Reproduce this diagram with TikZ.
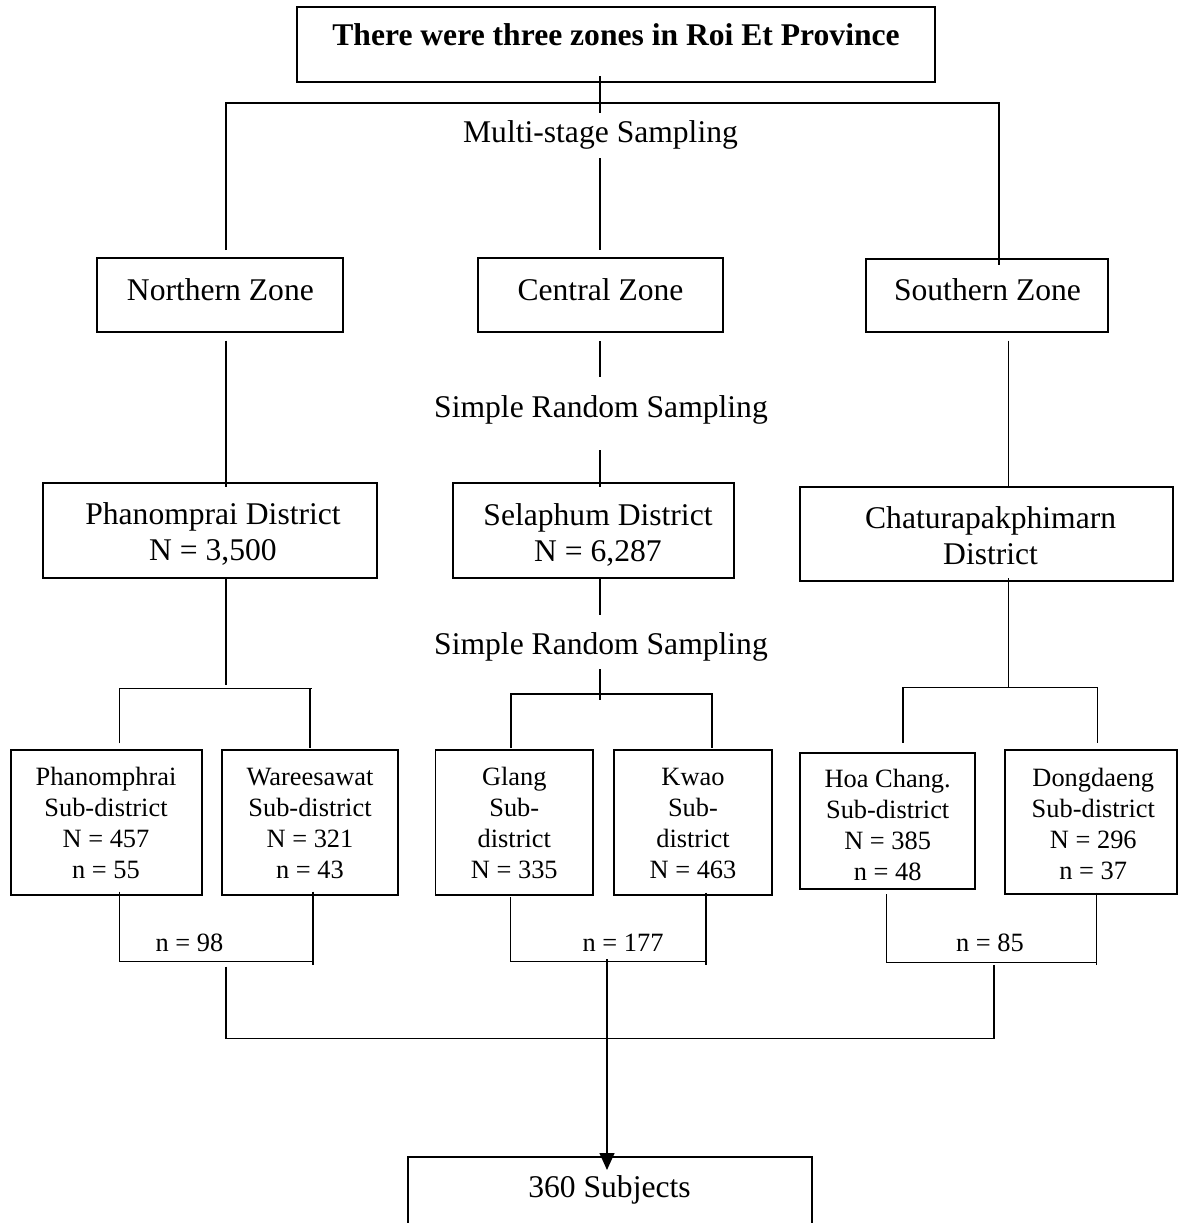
\documentclass[tikz,border=0pt]{standalone}
\usepackage{fontspec}
\setmainfont{Liberation Serif}
\usetikzlibrary{arrows.meta}
\newcommand\mkbox[5]{\node[boxst,minimum width={#4-#2},minimum height={#5-#3}] (#1) at ({(#2+#4)/2},{(#3+#5)/2}) {};}
\begin{document}
\begin{tikzpicture}[x=1pt,y=-1pt,line width=1.5pt,
  boxst/.style={draw,line width=1.6pt,rectangle,inner sep=0pt},
  big/.style={font=\fontsize{31.6}{36}\selectfont,align=center,inner sep=0pt},
  small/.style={font=\fontsize{26.4}{31}\selectfont,align=center,inner sep=0pt},
  link/.style={line width=1.5pt},
  tip/.style={-{Triangle[length=17pt,width=15pt]}}]
\useasboundingbox (0,0) rectangle (1179,1223);
\clip (0,0) rectangle (1179,1223);
% boxes
\mkbox{title}{297}{7}{935}{82}
\mkbox{nz}{97}{258}{343}{332}
\mkbox{cz}{478}{258}{723}{332}
\mkbox{sz}{866}{259}{1108}{332}
\mkbox{pd}{43}{483}{377}{578}
\mkbox{sd}{453}{483}{734}{578}
\mkbox{cd}{800}{487}{1173}{581}
\mkbox{b1}{11}{750}{202}{895}
\mkbox{b2}{222}{750}{398}{895}
\mkbox{b3}{435.5}{750}{593}{895}
\mkbox{b4}{614}{750}{772}{895}
\mkbox{b5}{800}{753}{975}{889}
\mkbox{b6}{1005}{750}{1177}{894}
\mkbox{subj}{408}{1157}{812}{1270}
% texts
\node[big] (title-t) at (616,35) {\bfseries There were three zones in Roi Et Province};
\node[big] (mss) at (600.5,135) {Multi-stage Sampling};
\node[big] (nz-t) at (220.4,290) {Northern Zone};
\node[big] (cz-t) at (600.5,290) {Central Zone};
\node[big] (sz-t) at (987.5,290) {Southern Zone};
\node[big] (srs1) at (601,410) {Simple Random Sampling};
\node[big] (srs2) at (601,647) {Simple Random Sampling};
\node[big] (pd-t) at (213,534) {Phanomprai District\\N = 3,500};
\node[big] (sd-t) at (598,535) {Selaphum District\\N = 6,287};
\node[big] (cd-t) at (990.6,536) {Chaturapakphimarn\\District};
\node[small] (b1-t) at (106,823) {Phanomphrai\\Sub-district\\N = 457\\n = 55};
\node[small] (b2-t) at (310,823) {Wareesawat\\Sub-district\\N = 321\\n = 43};
\node[small] (b3-t) at (514.3,823) {Glang\\Sub-\\district\\N = 335};
\node[small] (b4-t) at (693,823) {Kwao\\Sub-\\district\\N = 463};
\node[small] (b5-t) at (887.7,825) {Hoa Chang.\\Sub-district\\N = 385\\n = 48};
\node[small] (b6-t) at (1093.3,823.5) {Dongdaeng\\Sub-district\\N = 296\\n = 37};
\node[small] (n98) at (189.4,943) {n = 98};
\node[small] (n177) at (623,943) {n = 177};
\node[small] (n85) at (990,943) {n = 85};
\node[big] (subj-t) at (609.5,1190) {360 Subjects};
% junction coordinates
\coordinate (a1) at (600,76);     \coordinate (a2) at (600,112.7);
\coordinate (a3) at (600,158);    \coordinate (a4) at (600,250);
\coordinate (l0) at (225.8,250);  \coordinate (l1) at (225.8,103);
\coordinate (r1) at (999,103);    \coordinate (r0) at (999,265);
\coordinate (n1) at (225.8,340.7); \coordinate (n2) at (225.8,486.7);
\coordinate (c1) at (600,341);    \coordinate (c2) at (600,376.7);
\coordinate (c3) at (600,450);    \coordinate (c4) at (600,487);
\coordinate (s1) at (1008.6,340.7); \coordinate (s2) at (1008.6,486.7);
\coordinate (p1) at (225.8,578);  \coordinate (p2) at (225.8,685);
\coordinate (pl) at (119.4,743.3); \coordinate (pr) at (311.9,688.3);
\coordinate (pr1) at (310,688.3); \coordinate (pr2) at (310,748.3);
\coordinate (d1) at (600,578);    \coordinate (d2) at (600,615);
\coordinate (d3) at (600,669);    \coordinate (d4) at (600,700);
\coordinate (dl) at (511,748);    \coordinate (dr) at (712,694);
\coordinate (dr2) at (712,748);
\coordinate (e1) at (1008.6,578); \coordinate (e2) at (1008.6,686.7);
\coordinate (el) at (902.8,742.7); \coordinate (er) at (1097.6,687.7);
\coordinate (er2) at (1097.6,742.7);
\coordinate (f1) at (119.4,891.7); \coordinate (f2) at (313,961.7);
\coordinate (f3) at (313,891.7);  \coordinate (f4) at (313,965);
\coordinate (g1) at (510.5,897);  \coordinate (g2) at (706,961.7);
\coordinate (g3) at (706,892.7);  \coordinate (g4) at (706,965);
\coordinate (h1) at (886.7,894);  \coordinate (h2) at (1096.5,962.7);
\coordinate (h3) at (1096.5,892.7); \coordinate (h4) at (1096.5,965);
\coordinate (k1) at (225.8,966.7); \coordinate (k2) at (993.8,1038.3);
\coordinate (k3) at (993.8,965);
\coordinate (m1) at (607,959.3);  \coordinate (m2) at (607,1170);
% connectors
\draw[link] (a1) -- (a2);
\draw[link] (a3) -- (a4);
\draw[link] (l0) -- (l1) -- (r1) -- (r0);
\draw[link] (n1) -- (n2);
\draw[link] (c1) -- (c2);
\draw[link] (c3) -- (c4);
\draw[link] (s1) -- (s2);
\draw[link] (p1) -- (p2);
\draw[link] (pl) |- (pr);
\draw[link] (pr1) -- (pr2);
\draw[link] (d1) -- (d2);
\draw[link] (d3) -- (d4);
\draw[link] (dl) |- (dr) -- (dr2);
\draw[link] (e1) -- (e2);
\draw[link] (el) |- (er) -- (er2);
\draw[link] (f1) |- (f2);
\draw[link] (f3) -- (f4);
\draw[link] (g1) |- (g2);
\draw[link] (g3) -- (g4);
\draw[link] (h1) |- (h2);
\draw[link] (h3) -- (h4);
\draw[link] (k1) |- (k2) -- (k3);
\draw[link,tip] (m1) -- (m2);
\end{tikzpicture}
\end{document}
